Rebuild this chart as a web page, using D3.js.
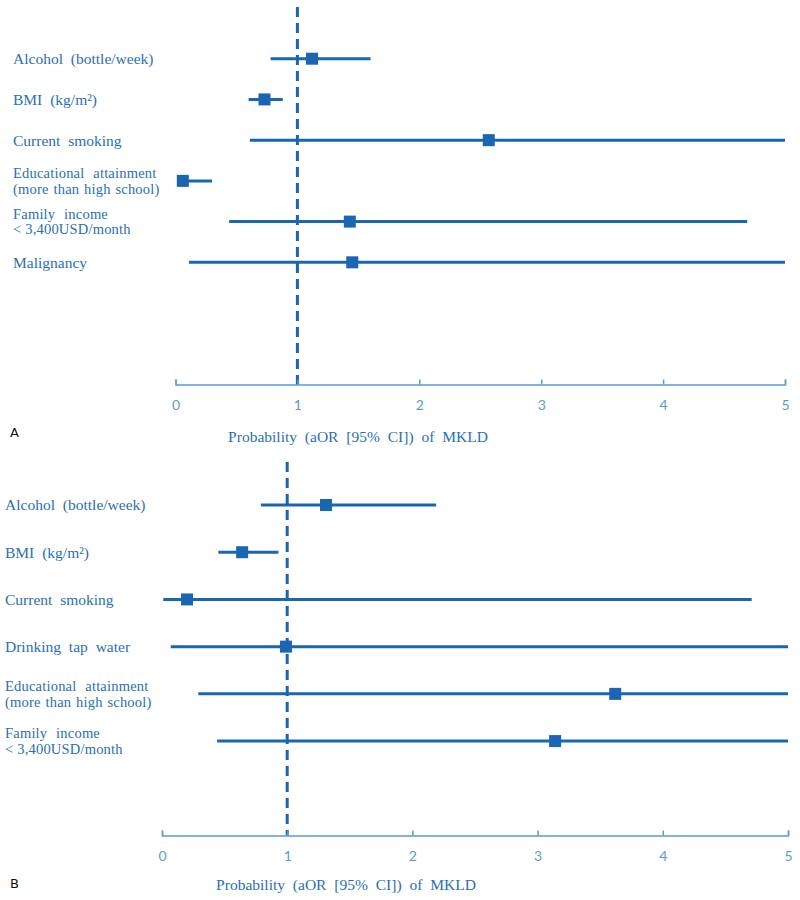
<!DOCTYPE html>
<html>
<head>
<meta charset="utf-8">
<script src="https://cdn.jsdelivr.net/npm/d3@7"></script>
<style>
  body { margin: 0; background: #fff; }
  svg { display: block; }
</style>
</head>
<body>
<svg id="chart" width="800" height="900"></svg>
<script>
// ---- Data ----
const labelsA = [
  ["Alcohol (bottle/week)"],
  ["BMI (kg/m²)"],
  ["Current smoking"],
  ["Educational attainment", "(more than high school)"],
  ["Family income", "< 3,400USD/month"],
  ["Malignancy"]
];
const orA    = [1.12, 0.73, 2.57, 0.06, 1.43, 1.45];
const lowerA = [0.78, 0.60, 0.61, 0.02, 0.44, 0.11];
const upperA = [1.60, 0.88, 5.00, 0.30, 4.69, 5.00];

const labelsB = [
  ["Alcohol (bottle/week)"],
  ["BMI (kg/m²)"],
  ["Current smoking"],
  ["Drinking tap water"],
  ["Educational attainment", "(more than high school)"],
  ["Family income", "< 3,400USD/month"]
];
const orB    = [1.31, 0.64, 0.20, 0.99, 3.62, 3.14];
const lowerB = [0.79, 0.45, 0.01, 0.07, 0.29, 0.44];
const upperB = [2.19, 0.93, 4.71, 5.00, 5.00, 5.00];

const xTicks = [0, 1, 2, 3, 4, 5];
const refValue = 1;
const axisTitle = "Probability (aOR [95% CI]) of MKLD";
const panelLetters = ["A", "B"];

// ---- Styles ----
const MARK = "#1a66b2";
const TEXT = "#2a6fb5";
const AXIS = "#5a9bd4";
const SERIF = "'Liberation Serif', 'Times New Roman', serif";

const svg = d3.select("#chart");

function panel(cfg) {
  const g = svg.append("g");
  const x = d3.scaleLinear().domain([0, 5]).range(cfg.xRange).clamp(true);
  const y = d3.scaleLinear().domain([0, cfg.axisIndex]).range([cfg.firstRowY, cfg.axisY]);
  const n = cfg.labels.length;
  const idx = d3.range(n);

  // reference dashed line
  g.append("line")
    .attr("x1", x(refValue)).attr("x2", x(refValue))
    .attr("y1", cfg.dashTop).attr("y2", cfg.axisY)
    .attr("stroke", MARK).attr("stroke-width", 3)
    .attr("stroke-dasharray", "10,6");

  // axis
  const axis = d3.axisBottom(x).tickValues(xTicks).tickFormat(d3.format("d"))
    .tickSizeInner(-5).tickSizeOuter(-5).tickPadding(16);
  const ag = g.append("g").attr("transform", `translate(0,${cfg.axisY})`).call(axis);
  ag.select(".domain").attr("stroke", AXIS).attr("stroke-width", 1.5);
  ag.selectAll(".tick line").attr("stroke", AXIS).attr("stroke-width", 1.5);
  ag.selectAll(".tick text")
    .attr("fill", AXIS)
    .style("font-family", "Lato, 'Open Sans', sans-serif")
    .style("font-size", "14px");

  // CI lines
  g.selectAll(".ci").data(idx).enter().append("line")
    .attr("x1", i => x(cfg.lower[i])).attr("x2", i => x(cfg.upper[i]))
    .attr("y1", i => y(i)).attr("y2", i => y(i))
    .attr("stroke", MARK).attr("stroke-width", 3);

  // point estimates
  const s = 12;
  g.selectAll(".pt").data(idx).enter().append("rect")
    .attr("x", i => x(cfg.or[i]) - s / 2).attr("y", i => y(i) - s / 2)
    .attr("width", s).attr("height", s)
    .attr("fill", MARK);

  // labels
  idx.forEach(i => {
    const lines = cfg.labels[i];
    if (lines.length === 1) {
      g.append("text")
        .attr("x", cfg.labelX).attr("y", y(i)).attr("dy", "0.35em")
        .attr("fill", TEXT)
        .style("font-family", SERIF)
        .style("word-spacing", "4px")
        .style("font-size", "15.5px")
        .text(lines[0]);
    } else {
      lines.forEach((ln, k) => {
        g.append("text")
          .attr("x", cfg.labelX)
          .attr("y", y(i) + (k === 0 ? -7.75 : 7.75)).attr("dy", "0.35em")
          .attr("fill", TEXT)
          .style("font-family", SERIF)
          .style("font-size", "14.5px")
          .style("letter-spacing", "0.2px")
          .style("word-spacing", k === 0 ? "5px" : (ln.startsWith("<") ? "0px" : "1px"))
          .text(ln);
      });
    }
  });

  // axis title
  g.append("text")
    .attr("x", cfg.titleX).attr("y", cfg.titleY).attr("dy", "0.35em")
    .attr("text-anchor", "middle")
    .attr("fill", TEXT)
    .style("font-family", SERIF)
    .style("word-spacing", "4px")
    .style("font-size", "15.5px")
    .text(axisTitle);

  // panel letter
  g.append("text")
    .attr("x", 10).attr("y", cfg.letterY).attr("dy", "0.35em")
    .attr("fill", "#111")
    .style("font-family", "'DejaVu Sans', sans-serif")
    .style("font-size", "13px")
    .text(cfg.letter);
}

panel({
  labels: labelsA, or: orA, lower: lowerA, upper: upperA,
  xRange: [175.5, 785], firstRowY: 58.7, axisIndex: 8, axisY: 384.5,
  dashTop: 7, labelX: 13, titleX: 358, titleY: 437, letterY: 432, letter: panelLetters[0]
});

panel({
  labels: labelsB, or: orB, lower: lowerB, upper: upperB,
  xRange: [162, 788], firstRowY: 505, axisIndex: 7, axisY: 835.5,
  dashTop: 462, labelX: 5, titleX: 346, titleY: 885, letterY: 883, letter: panelLetters[1]
});
</script>
</body>
</html>
